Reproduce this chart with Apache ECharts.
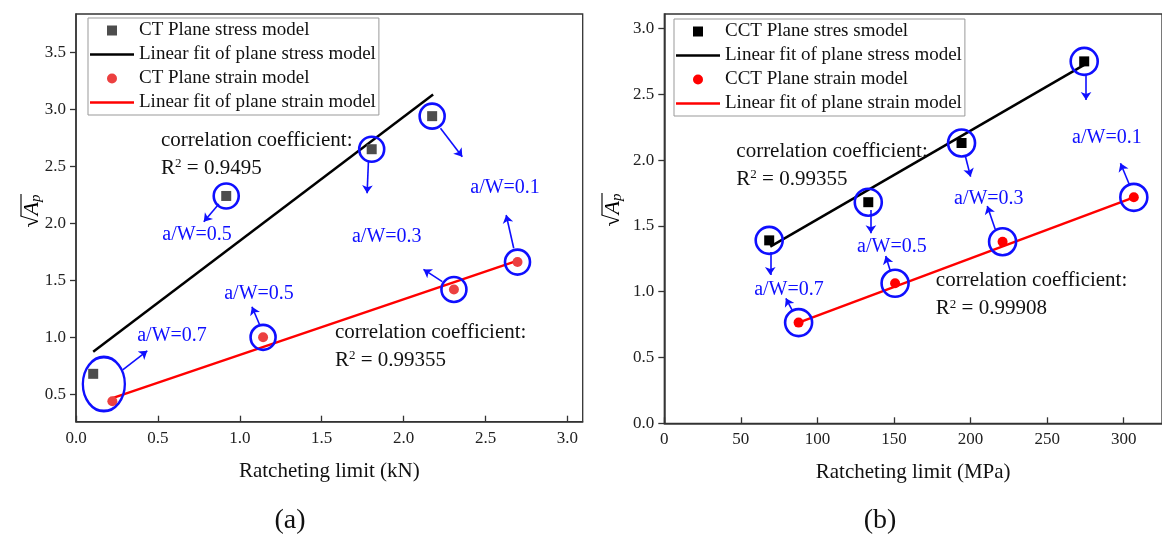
<!DOCTYPE html>
<html>
<head>
<meta charset="utf-8">
<script src="https://cdn.jsdelivr.net/npm/echarts@6/dist/echarts.min.js"></script>
<style>
  html, body { margin: 0; padding: 0; background: #fff; }
  #box { width: 1162px; height: 536px; }
</style>
</head>
<body>
<div id="box"></div>
<script>
// ---- (a) CT specimens, ratcheting limit in kN ----
const ctStress = [[0.105, 0.68], [0.917, 2.24], [1.805, 2.65], [2.174, 2.94]];
const ctStressFit = [[0.105, 0.874], [2.18, 3.13]];
const ctStrain = [[0.222, 0.44], [1.142, 1.0], [2.307, 1.42], [2.695, 1.66]];
const ctStrainFit = [[0.218, 0.465], [2.70, 1.675]];
// the 0.7 pair is wrapped by one ellipse: centre and size
const ctEllipse = [0.17, 0.59];
const ctArrows = [
  [[0.285, 0.714], [0.435, 0.882]],
  [[0.872, 2.169], [0.78, 2.014]],
  [[1.785, 2.54], [1.777, 2.263]],
  [[2.225, 2.833], [2.358, 2.584]],
  [[2.672, 1.781], [2.626, 2.073]],
  [[2.236, 1.488], [2.121, 1.596]],
  [[1.124, 1.099], [1.074, 1.268]]
];
const ctTags = [
  ['a/W=0.7', 0.586, 1.01],
  ['a/W=0.5', 0.739, 1.897],
  ['a/W=0.3', 1.897, 1.88],
  ['a/W=0.1', 2.619, 2.31],
  ['a/W=0.5', 1.117, 1.38]
];
const ctR2 = [['0.9495', 0.516, 2.608], ['0.99355', 1.578, 0.92]];
const xTicksA = [0, 0.5, 1.0, 1.5, 2.0, 2.5, 3.0];
const yTicksA = [0.5, 1.0, 1.5, 2.0, 2.5, 3.0, 3.5];

// ---- (b) CCT specimens, ratcheting limit in MPa ----
const cctStress = [[68.5, 1.39], [133.2, 1.68], [194.1, 2.13], [274.2, 2.75]];
const cctStressFit = [[69.2, 1.342], [274.2, 2.723]];
const cctStrain = [[87.7, 0.765], [150.7, 1.064], [220.9, 1.38], [306.6, 1.717]];
const cctStrainFit = [[87.7, 0.765], [306.6, 1.717]];
const cctArrows = [
  [[69.2, 1.302], [69.2, 1.127]],
  [[83.4, 0.861], [79.4, 0.95]],
  [[134.9, 1.621], [134.9, 1.444]],
  [[147.4, 1.165], [144.6, 1.271]],
  [[196.4, 2.039], [200, 1.874]],
  [[216.1, 1.474], [210.9, 1.651]],
  [[275.4, 2.647], [275.4, 2.457]],
  [[303.8, 1.811], [297.9, 1.976]]
];
const cctTags = [
  ['a/W=0.7', 81.4, 1.018],
  ['a/W=0.5', 148.6, 1.342],
  ['a/W=0.3', 211.9, 1.71],
  ['a/W=0.1', 289, 2.173]
];
const cctR2 = [['0.99355', 46.7, 1.96], ['0.99908', 177, 0.976]];
const xTicksB = [0, 50, 100, 150, 200, 250, 300];
const yTicksB = [0, 0.5, 1.0, 1.5, 2.0, 2.5, 3.0];

const SERIF = 'Liberation Serif';
const BLUE = '#0f0fff';
const SQUARE = 'path://M0,0L10,0L10,10L0,10Z';
const BAR = 'path://M0,0L44,0L44,2.4L0,2.4Z';

function xAxisOf(gridIndex, name, min, max, ticks, digits) {
  return {
    gridIndex, type: 'value', min, max, name,
    nameLocation: 'middle', nameGap: 39,
    nameTextStyle: { fontFamily: SERIF, fontSize: 21, color: '#111' },
    splitLine: { show: false },
    axisLine: { onZero: false, lineStyle: { color: '#333', width: 1.5 } },
    axisTick: { inside: true, length: 6, customValues: ticks, lineStyle: { color: '#333', width: 1.3 } },
    axisLabel: {
      customValues: ticks, margin: 8, fontFamily: SERIF, fontSize: 17, color: '#222',
      formatter: v => v.toFixed(digits)
    }
  };
}
function yAxisOf(gridIndex, min, max, ticks) {
  return {
    gridIndex, type: 'value', min, max,
    splitLine: { show: false },
    axisLine: { onZero: false, lineStyle: { color: '#333', width: 1.5 } },
    axisTick: { length: 6, customValues: ticks, lineStyle: { color: '#333', width: 1.3 } },
    axisLabel: {
      customValues: ticks, margin: 10, fontFamily: SERIF, fontSize: 17, color: '#222',
      formatter: v => v.toFixed(1)
    }
  };
}

function ringSeries(i, data, size) {
  return {
    type: 'scatter', xAxisIndex: i, yAxisIndex: i, silent: true, z: 4,
    symbol: 'circle', symbolSize: size,
    itemStyle: { color: 'rgba(0,0,0,0)', borderColor: BLUE, borderWidth: 2.6, opacity: 1 },
    data: data
  };
}
function arrowSeries(i, arrows) {
  return {
    type: 'lines', coordinateSystem: 'cartesian2d', xAxisIndex: i, yAxisIndex: i,
    silent: true, z: 5,
    symbol: ['none', 'arrow'], symbolSize: 8,
    lineStyle: { color: BLUE, width: 1.6, opacity: 1, curveness: 0 },
    data: arrows.map(a => ({ coords: a }))
  };
}
function tagSeries(i, tags) {
  return {
    type: 'scatter', xAxisIndex: i, yAxisIndex: i, silent: true, z: 6,
    symbol: 'circle', symbolSize: 1, itemStyle: { color: 'rgba(0,0,0,0)', opacity: 1 },
    label: {
      show: true, position: 'inside', formatter: p => p.name, opacity: 1,
      fontFamily: SERIF, fontSize: 20, color: BLUE
    },
    data: tags.map(t => ({ name: t[0], value: [t[1], t[2]] }))
  };
}
function r2Series(i, items) {
  return {
    type: 'scatter', xAxisIndex: i, yAxisIndex: i, silent: true, z: 6,
    symbol: 'circle', symbolSize: 1, itemStyle: { color: 'rgba(0,0,0,0)', opacity: 1 },
    label: {
      show: true, position: 'right', distance: 0, opacity: 1,
      formatter: p => '{t|correlation coefficient:}\n{t|R}{s|2}{t| = ' + p.name + '}',
      rich: {
        t: { fontFamily: SERIF, fontSize: 21, color: '#111', lineHeight: 28 },
        s: { fontFamily: SERIF, fontSize: 13, color: '#111', lineHeight: 28, padding: [0, 0, 9, 0] }
      }
    },
    data: items.map(t => ({ name: t[0], value: [t[1], t[2]] }))
  };
}

function sqrtName(x, y) {
  return {
    type: 'group', x: x, y: y, rotation: Math.PI / 2,
    children: [
      {
        type: 'text',
        style: {
          text: '{s|√}{a|A}{p|p}', x: 0, y: 0, align: 'center', verticalAlign: 'middle',
          rich: {
            s: { fontFamily: SERIF, fontSize: 22, color: '#111' },
            a: { fontFamily: SERIF, fontSize: 22, fontStyle: 'italic', color: '#111' },
            p: { fontFamily: SERIF, fontSize: 15, fontStyle: 'italic', color: '#111', padding: [8, 0, 0, 0] }
          }
        }
      },
      { type: 'line', shape: { x1: -5, y1: -11, x2: 17, y2: -11 }, style: { stroke: '#111', lineWidth: 1.2 } }
    ]
  };
}

function legendOf(left, top, names) {
  return {
    left: left, top: top, orient: 'vertical', itemWidth: 44, itemHeight: 10, itemGap: 5,
    padding: [3, 3, 3, 2], borderColor: '#999', borderWidth: 1,
    selectedMode: false, symbolKeepAspect: true,
    textStyle: { fontFamily: SERIF, fontSize: 19, color: '#111' },
    data: [
      { name: names[0], icon: SQUARE },
      { name: names[1], icon: BAR },
      { name: names[2], icon: 'circle' },
      { name: names[3], icon: BAR }
    ]
  };
}

let myChart = echarts.init(document.getElementById('box'));

let option = {
  animation: false,
  backgroundColor: '#fff',
  grid: [
    { left: 76, top: 14, width: 506.7, height: 407.7, show: true, borderColor: '#333', borderWidth: 1.3 },
    { left: 664.3, top: 14, width: 509, height: 409.3, show: true, borderColor: '#333', borderWidth: 1.3 }
  ],
  xAxis: [
    xAxisOf(0, 'Ratcheting limit (kN)', 0, 3.093, xTicksA, 1),
    xAxisOf(1, 'Ratcheting limit (MPa)', 0, 325, xTicksB, 0)
  ],
  yAxis: [
    yAxisOf(0, 0.26, 3.836, yTicksA),
    yAxisOf(1, 0, 3.11, yTicksB)
  ],
  legend: [
    legendOf(88, 18, ['CT Plane stress model', 'Linear fit of plane stress model', 'CT Plane strain model', 'Linear fit of plane strain model']),
    legendOf(674, 19, ['CCT Plane stres smodel', 'Linear fit of plane stress model', 'CCT Plane strain model', 'Linear fit of plane strain model'])
  ],
  graphic: [
    sqrtName(32, 211),
    sqrtName(613, 210),
    { type: 'text', x: 290, y: 521, style: { text: '(a)', fontFamily: SERIF, fontSize: 28, fill: '#111', align: 'center', verticalAlign: 'middle' } },
    { type: 'text', x: 880, y: 521, style: { text: '(b)', fontFamily: SERIF, fontSize: 28, fill: '#111', align: 'center', verticalAlign: 'middle' } }
  ],
  series: [
    {
      name: 'Linear fit of plane stress model', type: 'line', xAxisIndex: 0, yAxisIndex: 0,
      showSymbol: false, symbol: 'none', lineStyle: { color: '#000', width: 2.5 }, itemStyle: { color: '#000' },
      data: ctStressFit
    },
    {
      name: 'Linear fit of plane strain model', type: 'line', xAxisIndex: 0, yAxisIndex: 0,
      showSymbol: false, symbol: 'none', lineStyle: { color: '#ff0000', width: 2.5 }, itemStyle: { color: '#ff0000' },
      data: ctStrainFit
    },
    {
      name: 'CT Plane stress model', type: 'scatter', xAxisIndex: 0, yAxisIndex: 0, z: 3,
      symbol: 'rect', symbolSize: 10, itemStyle: { color: '#4d4d4d', opacity: 1 }, data: ctStress
    },
    {
      name: 'CT Plane strain model', type: 'scatter', xAxisIndex: 0, yAxisIndex: 0, z: 3,
      symbol: 'circle', symbolSize: 10, itemStyle: { color: '#ec4040', opacity: 1 }, data: ctStrain
    },
    ringSeries(0, ctStress.slice(1).concat(ctStrain.slice(1)), 25),
    ringSeries(0, [{ value: ctEllipse, symbolSize: [42, 54] }], 25),
    arrowSeries(0, ctArrows),
    tagSeries(0, ctTags),
    r2Series(0, ctR2),

    {
      name: 'Linear fit of plane stress model', type: 'line', xAxisIndex: 1, yAxisIndex: 1,
      showSymbol: false, symbol: 'none', lineStyle: { color: '#000', width: 2.5 }, itemStyle: { color: '#000' },
      data: cctStressFit
    },
    {
      name: 'Linear fit of plane strain model', type: 'line', xAxisIndex: 1, yAxisIndex: 1,
      showSymbol: false, symbol: 'none', lineStyle: { color: '#ff0000', width: 2.5 }, itemStyle: { color: '#ff0000' },
      data: cctStrainFit
    },
    {
      name: 'CCT Plane stres smodel', type: 'scatter', xAxisIndex: 1, yAxisIndex: 1, z: 3,
      symbol: 'rect', symbolSize: 10, itemStyle: { color: '#000', opacity: 1 }, data: cctStress
    },
    {
      name: 'CCT Plane strain model', type: 'scatter', xAxisIndex: 1, yAxisIndex: 1, z: 3,
      symbol: 'circle', symbolSize: 10, itemStyle: { color: '#ff0000', opacity: 1 }, data: cctStrain
    },
    ringSeries(1, cctStress.concat(cctStrain), 27),
    arrowSeries(1, cctArrows),
    tagSeries(1, cctTags),
    r2Series(1, cctR2)
  ]
};
myChart.setOption(option);
</script>
</body>
</html>
